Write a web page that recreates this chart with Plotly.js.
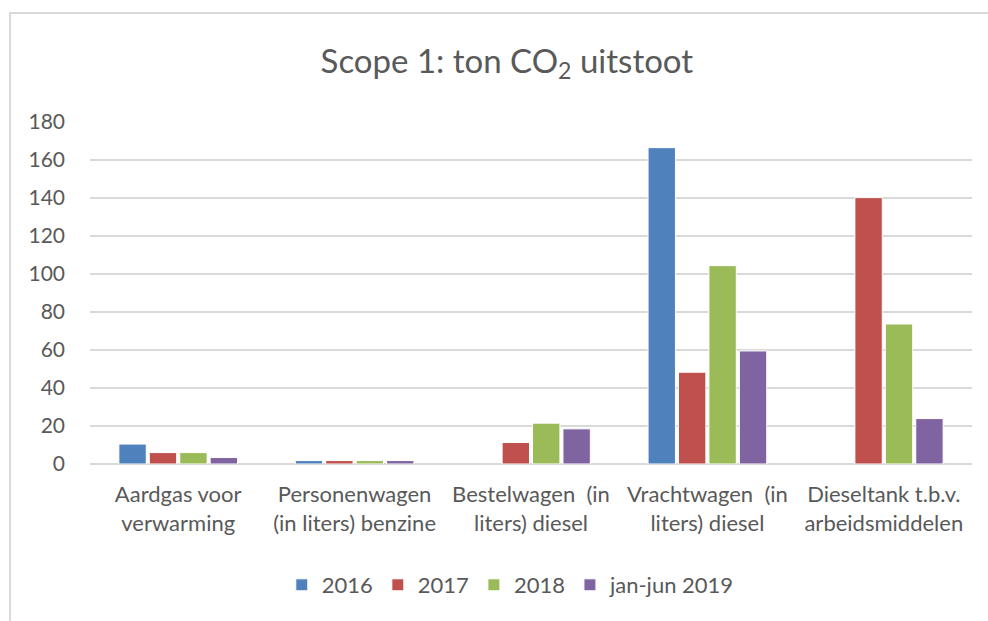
<!DOCTYPE html>
<html>
<head>
<meta charset="utf-8">
<script src="https://cdn.plot.ly/plotly-3.0.1.min.js"></script>
<style>
  html, body { margin: 0; padding: 0; background: #fff; }
  #frame { position: absolute; left: 9px; top: 12px; width: 1000px; height: 700px;
           border-left: 2px solid #d9d9d9; border-top: 2px solid #d9d9d9; pointer-events: none; }
  #chart { width: 988px; height: 621px; }
</style>
</head>
<body>
<div id="chart"></div>
<div id="frame"></div>
<script>
const categories = [
  "Aardgas voor<br>verwarming",
  "Personenwagen<br>(in liters) benzine",
  "Bestelwagen  (in<br>liters) diesel",
  "Vrachtwagen  (in<br>liters) diesel",
  "Dieseltank t.b.v.<br>arbeidsmiddelen"
];
const seriesNames = ["2016", "2017", "2018", "jan-jun 2019"];
const v2016 = [10.5, 1.8, null, 166.5, null];
const v2017 = [6.0, 1.8, 11.3, 48.3, 140.2];
const v2018 = [6.0, 1.8, 21.5, 104.4, 73.7];
const v2019 = [3.4, 1.8, 18.5, 59.5, 23.9];
const colors = ["#4F81BD", "#C0504D", "#9BBB59", "#8064A2"];
const values = [v2016, v2017, v2018, v2019];

const traces = values.map((v, i) => ({
  type: "bar",
  name: seriesNames[i],
  x: categories,
  y: v,
  marker: { color: colors[i], line: { color: "#ffffff", width: 1 } },
  hoverinfo: "x+y+name"
}));

const font = "Lato, 'Open Sans', 'DejaVu Sans', sans-serif";
const layout = {
  width: 988,
  height: 621,
  margin: { l: 90, r: 16, t: 122, b: 157 },
  paper_bgcolor: "#ffffff",
  plot_bgcolor: "#ffffff",
  font: { family: font, color: "#595959", size: 21 },
  title: {
    text: "Scope 1: ton CO<sub>2</sub> uitstoot",
    xref: "container", x: 0.513, xanchor: "center",
    yref: "container", y: 1 - 61 / 621, yanchor: "middle",
    font: { family: font, size: 33, color: "#595959" }
  },
  barmode: "group",
  bargap: 0.31,
  bargroupgap: 0.1,
  xaxis: {
    type: "category",
    showgrid: false,
    showline: false,
    ticks: "",
    tickfont: { family: font, size: 22, color: "#595959" },
    ticklabelstandoff: 15
  },
  yaxis: {
    range: [0, 180],
    dtick: 20,
    showgrid: true,
    gridcolor: "#d9d9d9",
    gridwidth: 2,
    zeroline: true,
    zerolinecolor: "#d9d9d9",
    zerolinewidth: 2,
    showline: false,
    ticks: "",
    tickfont: { family: font, size: 21, color: "#595959" },
    ticklabelstandoff: 24
  },
  showlegend: true,
  legend: {
    orientation: "h",
    xref: "container", x: 0.517, xanchor: "center",
    yref: "container", y: 1 - 585 / 621, yanchor: "middle",
    font: { family: font, size: 22, color: "#595959" },
    itemwidth: 30,
    traceorder: "normal"
  }
};

Plotly.newPlot("chart", traces, layout, { displayModeBar: false, staticPlot: true });
</script>
</body>
</html>
